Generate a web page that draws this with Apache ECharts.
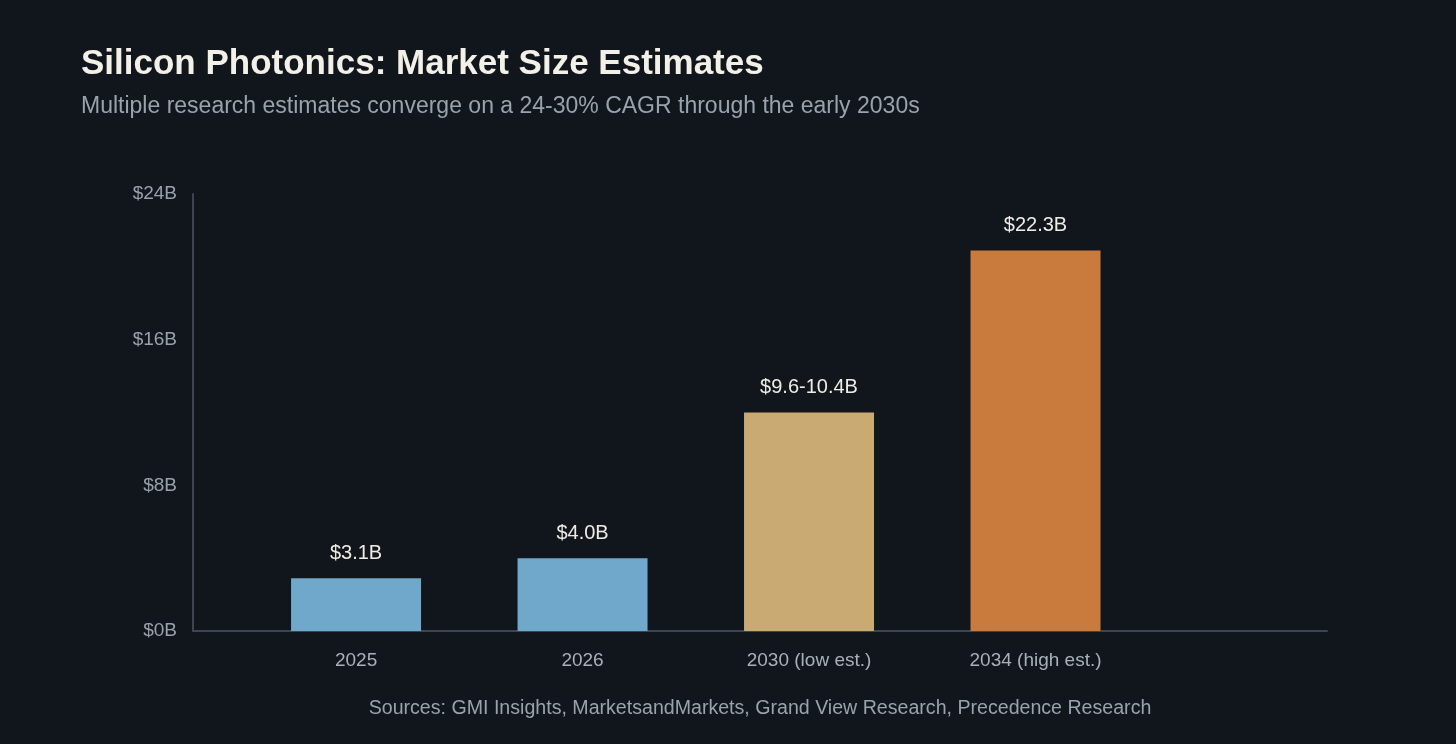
<!DOCTYPE html>
<html>
<head>
<meta charset="utf-8">
<title>Silicon Photonics: Market Size Estimates</title>
<script src="https://cdn.jsdelivr.net/npm/echarts@6/dist/echarts.min.js"></script>
<style>
  html, body { margin: 0; padding: 0; background: #11151c; }
  #chart { width: 1456px; height: 744px; }
</style>
</head>
<body>
<div id="chart"></div>
<script>
// chart data
const categories = ['2025', '2026', '2030 (low est.)', '2034 (high est.)'];
const barHeights = [2.9, 4.0, 12.0, 20.9];
const barLabels = ['$3.1B', '$4.0B', '$9.6-10.4B', '$22.3B'];
const barColors = ['#6fa8cb', '#6fa8cb', '#c9aa73', '#c87b3c'];

const font = '"Liberation Sans", Arial, Helvetica, sans-serif';

const chart = echarts.init(document.getElementById('chart'));

const option = {
  backgroundColor: '#11151c',
  animation: false,
  title: {
    text: 'Silicon Photonics: Market Size Estimates',
    subtext: 'Multiple research estimates converge on a 24-30% CAGR through the early 2030s',
    left: 81,
    top: 47,
    padding: 0,
    itemGap: 13,
    textStyle: { color: '#f3f0e8', fontSize: 35, fontWeight: 'bold', fontFamily: font },
    subtextStyle: { color: '#9aa3ad', fontSize: 23, fontFamily: font }
  },
  grid: { left: 193, right: 129, top: 194, bottom: 113 },
  xAxis: {
    type: 'value',
    min: -0.72,
    max: 4.287,
    splitLine: { show: false },
    axisTick: { show: false },
    axisLine: { show: true, onZero: false, lineStyle: { color: '#3d4452', width: 2 } },
    axisLabel: {
      customValues: [0, 1, 2, 3],
      formatter: v => categories[Math.round(v)],
      color: '#a9b0ba',
      fontSize: 19,
      fontFamily: font,
      margin: 20
    },
    name: 'Sources: GMI Insights, MarketsandMarkets, Grand View Research, Precedence Research',
    nameLocation: 'middle',
    nameGap: 68,
    nameTextStyle: { color: '#9aa3ad', fontSize: 19.6, fontFamily: font }
  },
  yAxis: {
    type: 'value',
    min: 0,
    max: 24,
    interval: 8,
    splitLine: { show: false },
    axisTick: { show: false },
    axisLine: { show: true, onZero: false, lineStyle: { color: '#3d4452', width: 2 } },
    axisLabel: {
      formatter: v => '$' + v + 'B',
      color: '#9aa1ab',
      fontSize: 19,
      fontFamily: font,
      margin: 16
    }
  },
  series: [{
    type: 'bar',
    barWidth: 130,
    data: barHeights.map((h, i) => ({
      value: [i, h],
      itemStyle: { color: barColors[i] }
    })),
    label: {
      show: true,
      position: 'top',
      distance: 15,
      formatter: p => barLabels[p.dataIndex],
      color: '#efece5',
      fontSize: 20,
      fontFamily: font
    }
  }]
};

chart.setOption(option);
</script>
</body>
</html>
